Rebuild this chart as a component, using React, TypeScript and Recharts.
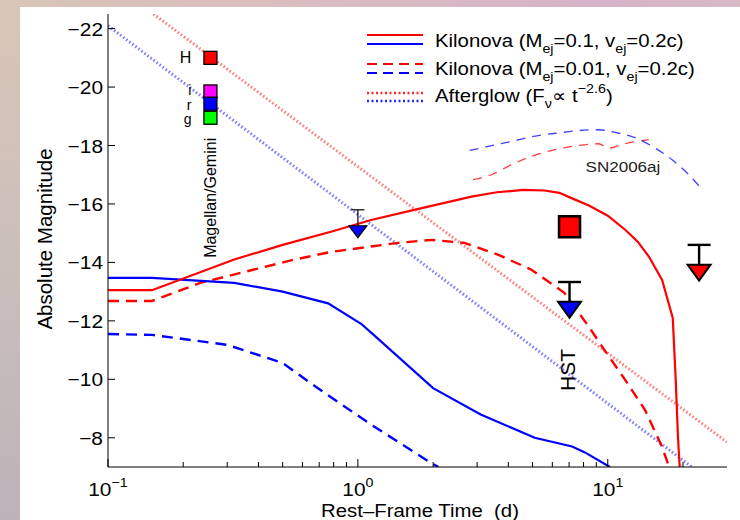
import React from 'react';
import { ComposedChart, Line, Scatter, XAxis, YAxis } from 'recharts';

const FONT = '"Liberation Sans", Arial, Helvetica, sans-serif';
const SX = 1.1;

// ---------------- data (t: rest-frame time in days, m: absolute magnitude) ----------------
const kilonovaHeavyRed = [
  { t: 0.1, m: -13.05 }, { t: 0.15, m: -13.05 }, { t: 0.32, m: -14.1 }, { t: 0.5, m: -14.6 },
  { t: 0.78, m: -15.05 }, { t: 1.13, m: -15.45 }, { t: 1.68, m: -15.8 }, { t: 2.85, m: -16.25 },
  { t: 3.6, m: -16.4 }, { t: 4.6, m: -16.48 }, { t: 5.58, m: -16.46 }, { t: 6.4, m: -16.38 },
  { t: 7.16, m: -16.2 }, { t: 8.4, m: -15.95 }, { t: 10, m: -15.6 }, { t: 11.8, m: -15.1 },
  { t: 13.2, m: -14.7 }, { t: 14.6, m: -14.2 }, { t: 16.5, m: -13.4 }, { t: 18.2, m: -12.1 },
  { t: 18.7, m: -10.0 }, { t: 19.1, m: -8.0 }, { t: 19.4, m: -7.0 },
];
const kilonovaHeavyBlue = [
  { t: 0.1, m: -13.47 }, { t: 0.15, m: -13.47 }, { t: 0.32, m: -13.3 }, { t: 0.5, m: -13.0 },
  { t: 0.76, m: -12.6 }, { t: 1.03, m: -11.9 }, { t: 1.13, m: -11.6 }, { t: 2.0, m: -9.7 },
  { t: 3.1, m: -8.8 }, { t: 5.1, m: -8.0 }, { t: 7.2, m: -7.7 }, { t: 8.1, m: -7.5 }, { t: 10.2, m: -7.0 },
];
const kilonovaLightRed = [
  { t: 0.1, m: -12.68 }, { t: 0.15, m: -12.68 }, { t: 0.234, m: -13.3 }, { t: 0.553, m: -14.09 },
  { t: 0.78, m: -14.36 }, { t: 1.45, m: -14.67 }, { t: 1.96, m: -14.77 }, { t: 2.67, m: -14.67 },
  { t: 3.65, m: -14.26 }, { t: 4.95, m: -13.75 }, { t: 6.7, m: -12.96 }, { t: 8.4, m: -11.8 },
  { t: 9.7, m: -11.0 }, { t: 11.7, m: -10.0 }, { t: 14.1, m: -8.95 }, { t: 16.5, m: -7.68 }, { t: 17.6, m: -7.0 },
];
const kilonovaLightBlue = [
  { t: 0.1, m: -11.55 }, { t: 0.15, m: -11.52 }, { t: 0.3, m: -11.18 }, { t: 0.5, m: -10.56 },
  { t: 0.69, m: -9.7 }, { t: 1.13, m: -8.45 }, { t: 1.96, m: -7.14 }, { t: 2.1, m: -7.0 },
];
const afterglowRed = [{ t: 0.152, m: -22.5 }, { t: 30, m: -7.85 }];
const afterglowBlue = [{ t: 0.1, m: -22.1 }, { t: 21.7, m: -7.0 }];
const sn2006ajRed = [
  { t: 2.89, m: -16.83 }, { t: 3.42, m: -17.0 }, { t: 4.11, m: -17.34 }, { t: 4.95, m: -17.63 },
  { t: 6.14, m: -17.86 }, { t: 7.63, m: -18.0 }, { t: 9.18, m: -18.06 }, { t: 10.07, m: -17.91 },
  { t: 11.7, m: -18.06 }, { t: 14.6, m: -18.2 },
];
const sn2006ajBlue = [
  { t: 2.8, m: -17.83 }, { t: 3.32, m: -17.97 }, { t: 4.11, m: -18.14 }, { t: 5.27, m: -18.34 },
  { t: 6.34, m: -18.43 }, { t: 7.63, m: -18.51 }, { t: 9.18, m: -18.54 }, { t: 10.7, m: -18.45 },
  { t: 12.9, m: -18.26 }, { t: 15.5, m: -17.91 }, { t: 18.1, m: -17.51 }, { t: 21.1, m: -17.0 }, { t: 23.9, m: -16.49 },
];

const magellanTime = 0.257;
const magellanBands = ['H', 'i', 'r', 'g'];
const magellanMags = [-21.0, -19.85, -19.43, -18.95];

const groundLimits = [{ t: 1.0, m: -15.05, cap: -15.8, band: 'r' }];
const hstDetections = [{ t: 7.03, m: -15.22, band: 'H' }];
const hstLimits = [
  { t: 7.03, m: -12.38, cap: -13.33, band: 'r' },
  { t: 23.2, m: -13.65, cap: -14.6, band: 'H' },
];

const noteMagellan = [{ t: 0.257, m: -16.21, text: 'Magellan/Gemini' }];
const noteHST = [{ t: 7.03, m: -10.32, text: 'HST' }];
const noteSN = [{ t: 11.5, m: -17.31, text: 'SN2006aj' }];

const xTicks = [0.1, 0.2, 0.3, 0.4, 0.5, 0.6, 0.7, 0.8, 0.9, 1, 2, 3, 4, 5, 6, 7, 8, 9, 10, 20];
const xMajorTicks = [0.1, 1, 10];
const xExponents = ['−1', '0', '1'];
const yTicks = [-22, -20, -18, -16, -14, -12, -10, -8];
const xDomain = [0.1, 30];
const yDomain = [-22.5, -7];

const legendRows = [
  { text: ['Kilonova (M', 'ej', '=0.1, v', 'ej', '=0.2c)'], kind: 'solid' },
  { text: ['Kilonova (M', 'ej', '=0.01, v', 'ej', '=0.2c)'], kind: 'dashed' },
  { text: ['Afterglow (F', 'ν', '∝ t', '−2.6', ')'], kind: 'dotted' },
];

// ---------------- derived tables ----------------
const magellanPoints = magellanBands.map((b, i) => ({ t: magellanTime, m: magellanMags[i], band: b }));
const stems = (lims: any[]) => lims.flatMap((l) => [{ t: l.t, m: l.m }, { t: l.t, m: l.cap }, { t: l.t, m: null }]);
const caps = (lims: any[]) => lims.map((l) => ({ t: l.t, m: l.cap }));

// ---------------- styles ----------------
const bandColor: Record<string, string> = { H: '#ff0000', i: '#ff00ff', r: '#0000ff', g: '#00ff00' };
const bandLabelDy: Record<string, number> = { H: 5.5, i: 3.5, r: 6, g: 6.5 };
const RED = '#ff0000';
const BLUE = '#0000ff';

const fmtY = (v: number) => (v < 0 ? '−' + Math.abs(v) : String(v));

function BottomTick(p: any) {
  const { x, y, payload } = p;
  const i = xMajorTicks.indexOf(payload.value);
  const len = i >= 0 ? 8 : 5;
  return (
    <g>
      <line x1={x} x2={x} y1={y} y2={y - len} stroke="#000" strokeWidth={1} />
      {i >= 0 && (
        <text transform={`translate(${x},${y + 29}) scale(${SX},1)`} textAnchor="middle" fontFamily={FONT} fontSize={19} fill="#000">
          10<tspan dy={-9} fontSize={13}>{xExponents[i]}</tspan>
        </text>
      )}
    </g>
  );
}
function TopTick(p: any) {
  const { x, y, payload } = p;
  const len = xMajorTicks.indexOf(payload.value) >= 0 ? 8 : 5;
  return <line x1={x} x2={x} y1={y} y2={y + len} stroke="#000" strokeWidth={1} />;
}
function LeftTick(p: any) {
  const { x, y, payload } = p;
  return (
    <g>
      <line x1={x} x2={x + 7} y1={y} y2={y} stroke="#000" strokeWidth={1} />
      <text transform={`translate(${x - 5},${y + 7}) scale(${SX},1)`} textAnchor="end" fontFamily={FONT} fontSize={19} fill="#000">
        {fmtY(payload.value)}
      </text>
    </g>
  );
}
function RightTick(p: any) {
  const { x, y } = p;
  return <line x1={x} x2={x - 7} y1={y} y2={y} stroke="#000" strokeWidth={1} />;
}

const squareShape = (size: number, sw: number) => (p: any) => {
  const { cx, cy, payload } = p;
  return <rect x={cx - size / 2} y={cy - size / 2} width={size} height={size} fill={bandColor[payload.band]} stroke="#000" strokeWidth={sw} />;
};
const triangleShape = (w: number, h: number, sw: number) => (p: any) => {
  const { cx, cy, payload } = p;
  const pts = `${cx - w / 2},${cy - h / 2} ${cx + w / 2},${cy - h / 2} ${cx},${cy + h / 2}`;
  return <polygon points={pts} fill={bandColor[payload.band]} stroke="#000" strokeWidth={sw} strokeLinejoin="miter" />;
};
const capShape = (w: number, sw: number) => (p: any) => {
  const { cx, cy } = p;
  return <line x1={cx - w / 2} x2={cx + w / 2} y1={cy} y2={cy} stroke="#000" strokeWidth={sw} />;
};
const bandLabelShape = (p: any) => {
  const { cx, cy, payload } = p;
  return (
    <text x={cx - 19} y={cy + bandLabelDy[payload.band]} textAnchor="end" fontFamily={FONT} fontSize={payload.band === 'H' ? 16 : 14} fill="#000">
      {payload.band}
    </text>
  );
};
const rotatedNote = (size: number, dx: number) => (p: any) => {
  const { cx, cy, payload } = p;
  return (
    <text transform={`translate(${cx + dx},${cy}) rotate(-90)`} textAnchor="middle" fontFamily={FONT} fontSize={size} fill="#000">
      {payload.text}
    </text>
  );
};
const snNote = (p: any) => {
  const { cx, cy, payload } = p;
  return (
    <text transform={`translate(${cx},${cy + 6}) scale(${SX},1)`} textAnchor="middle" fontFamily={FONT} fontSize={15.5} fill="#222">
      {payload.text}
    </text>
  );
};

const common = { isAnimationActive: false, dot: false, activeDot: false, legendType: 'none' as const };

function LegendOverlay() {
  const x0 = 367;
  const x1 = 423;
  const rows = [
    { yR: 35, yB: 44, base: 47 },
    { yR: 64, yB: 73, base: 75 },
    { yR: 93, yB: 101, base: 102 },
  ];
  return (
    <g>
      {legendRows.map((row, i) => {
        const r = rows[i];
        const dash = row.kind === 'dashed' ? '10 6' : row.kind === 'dotted' ? '2 2.5' : undefined;
        const sw = row.kind === 'dotted' ? 2.5 : 2.2;
        const op = row.kind === 'dotted' ? 0.85 : 1;
        const isSup = row.kind === 'dotted';
        return (
          <g key={i}>
            <line x1={x0} x2={x1} y1={r.yR} y2={r.yR} stroke={RED} strokeWidth={sw} strokeDasharray={dash} strokeOpacity={op} />
            <line x1={x0} x2={x1} y1={r.yB} y2={r.yB} stroke={BLUE} strokeWidth={sw} strokeDasharray={dash} strokeOpacity={op} />
            <text transform={`translate(435,${r.base}) scale(${SX},1)`} fontFamily={FONT} fontSize={18.5} fill="#000">
              {row.text[0]}
              <tspan dy={6} fontSize={13}>{row.text[1]}</tspan>
              <tspan dy={-6}>{row.text[2]}</tspan>
              {isSup ? (
                <>
                  <tspan dy={-9} fontSize={13}>{row.text[3]}</tspan>
                  <tspan dy={9}>{row.text[4]}</tspan>
                </>
              ) : (
                <>
                  <tspan dy={6} fontSize={13}>{row.text[3]}</tspan>
                  <tspan dy={-6}>{row.text[4]}</tspan>
                </>
              )}
            </text>
          </g>
        );
      })}
    </g>
  );
}

export default function App() {
  return (
    <div style={{ position: 'fixed', left: 0, top: 0, width: 740, height: 520, overflow: 'hidden', fontFamily: FONT }}>
      <div style={{ position: 'absolute', left: 0, top: 0, width: 740, height: 7, background: 'linear-gradient(to right, #d9c5b7 0%, #d8bcc0 45%, #d6b3c8 80%, #d7b9c4 100%)' }} />
      <div style={{ position: 'absolute', left: 0, top: 0, width: 20, height: 520, background: 'linear-gradient(to bottom, #d9c5b7 0%, #cbbfbb 50%, #bcb3b9 100%)' }} />
      <div style={{ position: 'absolute', left: 20, top: 7, width: 720, height: 513, background: '#ffffff' }} />
      <div style={{ position: 'absolute', left: 0, top: 0 }}>
        <ComposedChart width={740} height={520} margin={{ top: 14, right: 13, bottom: 0, left: 8 }}>
          <XAxis dataKey="t" type="number" scale="log" domain={xDomain} allowDataOverflow ticks={xTicks} interval={0}
            tickSize={0} tickMargin={0} tickLine={false} tick={(p: any) => <BottomTick {...p} />} axisLine={{ stroke: '#000', strokeWidth: 1 }} height={53} />
          <XAxis xAxisId="top" orientation="top" mirror dataKey="t" type="number" scale="log" domain={xDomain} allowDataOverflow ticks={xTicks} interval={0}
            tickSize={0} tickMargin={0} tickLine={false} tick={(p: any) => <TopTick {...p} />} axisLine={{ stroke: '#000', strokeWidth: 1 }} height={0} />
          <YAxis dataKey="m" type="number" domain={yDomain} reversed allowDataOverflow ticks={yTicks} interval={0}
            tickSize={0} tickMargin={0} tickLine={false} tick={(p: any) => <LeftTick {...p} />} axisLine={{ stroke: '#000', strokeWidth: 1 }} width={100} />
          <YAxis yAxisId="right" orientation="right" mirror dataKey="m" type="number" domain={yDomain} reversed allowDataOverflow ticks={yTicks} interval={0}
            tickSize={0} tickMargin={0} tickLine={false} tick={(p: any) => <RightTick {...p} />} axisLine={{ stroke: '#000', strokeWidth: 1 }} width={0} />

          {/* afterglow power laws */}
          <Line {...common} data={afterglowRed} dataKey="m" type="linear" stroke={RED} strokeOpacity={0.5} strokeWidth={3} strokeDasharray="1.6 2.2" />
          <Line {...common} data={afterglowBlue} dataKey="m" type="linear" stroke={BLUE} strokeOpacity={0.5} strokeWidth={3} strokeDasharray="1.6 2.2" />

          {/* SN2006aj */}
          <Line {...common} data={sn2006ajRed} dataKey="m" type="monotone" stroke={RED} strokeOpacity={0.75} strokeWidth={1.3} strokeDasharray="9 7" />
          <Line {...common} data={sn2006ajBlue} dataKey="m" type="monotone" stroke={BLUE} strokeOpacity={0.75} strokeWidth={1.3} strokeDasharray="9 7" />

          {/* kilonova models */}
          <Line {...common} data={kilonovaLightBlue} dataKey="m" type="linear" stroke={BLUE} strokeWidth={2.4} strokeDasharray="11 7" />
          <Line {...common} data={kilonovaLightRed} dataKey="m" type="linear" stroke={RED} strokeWidth={2.4} strokeDasharray="11 7" />
          <Line {...common} data={kilonovaHeavyBlue} dataKey="m" type="linear" stroke={BLUE} strokeWidth={2.2} />
          <Line {...common} data={kilonovaHeavyRed} dataKey="m" type="linear" stroke={RED} strokeWidth={2.2} />

          {/* upper-limit stems */}
          <Line {...common} data={stems(groundLimits)} dataKey="m" type="linear" stroke="#000" strokeWidth={1.2} />
          <Line {...common} data={stems(hstLimits)} dataKey="m" type="linear" stroke="#000" strokeWidth={2.4} />

          <Scatter data={caps(groundLimits)} isAnimationActive={false} shape={capShape(13, 1.2)} legendType="none" />
          <Scatter data={caps(hstLimits)} isAnimationActive={false} shape={capShape(23, 2.4)} legendType="none" />
          <Scatter data={groundLimits} isAnimationActive={false} shape={triangleShape(18, 12, 1.2)} legendType="none" />
          <Scatter data={hstLimits} isAnimationActive={false} shape={triangleShape(23, 16, 2)} legendType="none" />
          <Scatter data={hstDetections} isAnimationActive={false} shape={squareShape(21, 2.5)} legendType="none" />
          <Scatter data={magellanPoints} isAnimationActive={false} shape={squareShape(13, 1.3)} legendType="none" />
          <Scatter data={magellanPoints} isAnimationActive={false} shape={bandLabelShape} legendType="none" />

          <Scatter data={noteMagellan} isAnimationActive={false} shape={rotatedNote(16, 6)} legendType="none" />
          <Scatter data={noteHST} isAnimationActive={false} shape={rotatedNote(21, 5)} legendType="none" />
          <Scatter data={noteSN} isAnimationActive={false} shape={snNote} legendType="none" />
        </ComposedChart>
      </div>
      <svg width={740} height={520} style={{ position: 'absolute', left: 0, top: 0, pointerEvents: 'none' }}>
        <text transform="translate(52,239) rotate(-90)" textAnchor="middle" fontFamily={FONT} fontSize={20.5} fill="#000">
          Absolute Magnitude
        </text>
        <text transform={`translate(420,517) scale(${SX},1)`} textAnchor="middle" fontFamily={FONT} fontSize={18.5} fill="#000" style={{ whiteSpace: 'pre' }}>
          Rest–Frame Time  (d)
        </text>
        <LegendOverlay />
      </svg>
    </div>
  );
}
